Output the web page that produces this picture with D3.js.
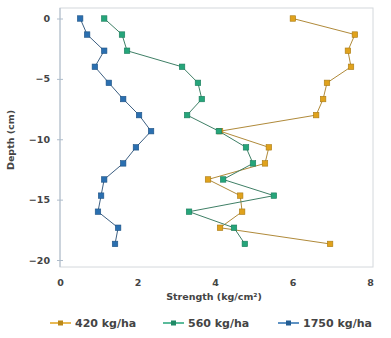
<!DOCTYPE html>
<html><head><meta charset="utf-8">
<script src="https://cdn.jsdelivr.net/npm/d3@7"></script>
<style>body{margin:0;background:#fff}svg{display:block}text{font-family:"DejaVu Sans",sans-serif;fill:#444}</style>
</head><body>
<svg id="c" width="391" height="338"></svg>
<script>
const depths = [0,-1.33,-2.67,-4,-5.33,-6.67,-8,-9.33,-10.67,-12,-13.33,-14.67,-16,-17.33,-18.67];
const s420 = [6.01,7.61,7.43,7.51,6.89,6.79,6.61,4.13,5.39,5.29,3.82,4.65,4.70,4.13,6.97];
const s560 = [1.14,1.60,1.73,3.15,3.56,3.66,3.28,4.10,4.80,4.98,4.21,5.52,3.33,4.49,4.77];
const s1750 = [0.52,0.70,1.14,0.90,1.26,1.63,2.04,2.35,1.96,1.63,1.14,1.06,0.98,1.50,1.42];
const seriesNames = ["420 kg/ha","560 kg/ha","1750 kg/ha"];
const colors = ["#e0a21c","#25a57a","#2a6fb0"];
const lineColors = ["#b08a3a","#3f7f66","#3d5f82"];
const xTicks = [0,2,4,6,8];
const yTicks = [0,-5,-10,-15,-20];

const svg = d3.select("#c");
const L=60, R=373, T=8, B=267;
const x = d3.scaleLinear().domain([0,8]).range([60,370]);
const y = d3.scaleLinear().domain([0,-20]).range([18.5,260]);

svg.append("rect").attr("x",L).attr("y",T).attr("width",R-L).attr("height",B-T)
  .attr("fill","#fff").attr("stroke","#d4d8dc").attr("stroke-width",1);
svg.append("line").attr("x1",L).attr("x2",L).attr("y1",T).attr("y2",B).attr("stroke","#aebccb");

const ya = svg.append("g").attr("transform",`translate(${L},0)`)
  .call(d3.axisLeft(y).tickValues(yTicks).tickSize(3).tickPadding(7).tickFormat(d3.format("d")));
ya.select(".domain").remove();
ya.selectAll("line").attr("stroke","#aebccb").attr("x2",-3).attr("x1",3);
ya.selectAll("text").attr("font-size",9.5).attr("font-weight","bold").attr("fill","#555");

const xa = svg.append("g").attr("transform",`translate(0,${B})`)
  .call(d3.axisBottom(x).tickValues(xTicks).tickSize(0).tickPadding(12).tickFormat(d3.format("d")));
xa.select(".domain").remove();
xa.selectAll("text").attr("font-size",9.5).attr("font-weight","bold").attr("fill","#555");

svg.append("text").attr("x",214).attr("y",300).attr("text-anchor","middle")
  .attr("font-size",9.5).attr("font-weight","bold").text("Strength (kg/cm²)");
svg.append("text").attr("transform","translate(14,140) rotate(-90)").attr("text-anchor","middle")
  .attr("font-size",9.5).attr("font-weight","bold").text("Depth (cm)");

const data = [s420,s560,s1750];
const line = d3.line().x(d=>x(d[0])).y(d=>y(d[1]));
data.forEach((vals,i)=>{
  const pts = vals.map((v,j)=>[v,depths[j]]);
  svg.append("path").datum(pts).attr("d",line).attr("fill","none")
    .attr("stroke",lineColors[i]).attr("stroke-width",1);
  svg.append("g").selectAll("rect").data(pts).join("rect")
    .attr("x",d=>x(d[0])-2.75).attr("y",d=>y(d[1])-2.75).attr("width",5.5).attr("height",5.5)
    .attr("fill",colors[i]).attr("stroke",d3.color(colors[i]).darker(0.8)).attr("stroke-width",0.6);
});

const legX = [50,163,278];
seriesNames.forEach((n,i)=>{
  const g = svg.append("g").attr("transform",`translate(${legX[i]},323)`);
  g.append("line").attr("x1",0).attr("x2",21).attr("stroke",colors[i]).attr("stroke-width",1.5);
  g.append("rect").attr("x",8).attr("y",-2.5).attr("width",5).attr("height",5).attr("fill",d3.color(colors[i]).darker(0.5));
  g.append("text").attr("x",25).attr("y",4).attr("font-size",11).attr("font-weight","bold").attr("fill","#555").text(n);
});
</script>
</body></html>
